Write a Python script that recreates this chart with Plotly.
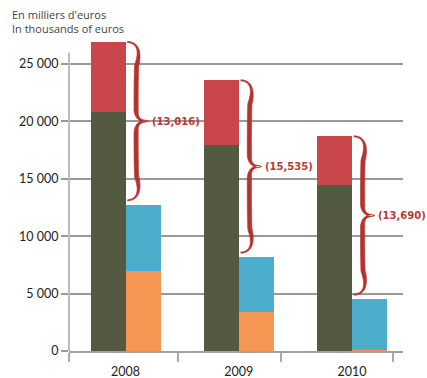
import math
import plotly.graph_objects as go

years = ["2008", "2009", "2010"]
dark_vals = [20800, 17900, 14430]
red_vals = [6120, 5680, 4270]
orange_vals = [6970, 3400, 120]
blue_vals = [5750, 4760, 4380]
brace_labels = ["(13,016)", "(15,535)", "(13,690)"]

C_DARK = "#545942"
C_RED = "#c9474a"
C_ORANGE = "#f79552"
C_BLUE = "#4daecb"
C_BRACE = "#b5332e"

pos = list(range(len(years)))
bw = 0.31
xl = [p - bw / 2 for p in pos]
xr = [p + bw / 2 for p in pos]

fig = go.Figure()
fig.add_bar(x=xl, y=dark_vals, width=bw, marker=dict(color=C_DARK, line=dict(width=0)))
fig.add_bar(x=xl, y=red_vals, width=bw, marker=dict(color=C_RED, line=dict(width=0)))
fig.add_bar(x=xr, y=orange_vals, width=bw, marker=dict(color=C_ORANGE, line=dict(width=0)))
fig.add_bar(x=xr, y=blue_vals, width=bw, marker=dict(color=C_BLUE, line=dict(width=0)))

# pixel scale of the axes (plot 334 px wide over 2.95 units, 310 px tall over 27000)
PX_X = 334 / 2.95
PX_Y = 310 / 27000


def bez(p0, p1, p2, p3, n=14):
    pts = []
    for k in range(n + 1):
        t = k / n
        a = (1 - t) ** 3
        b = 3 * (1 - t) ** 2 * t
        c = 3 * (1 - t) * t ** 2
        d = t ** 3
        pts.append((a * p0[0] + b * p1[0] + c * p2[0] + d * p3[0],
                    a * p0[1] + b * p1[1] + c * p2[1] + d * p3[1]))
    return pts


def brace_polygon(cx, top, bot):
    H = (top - bot) * PX_Y  # pixel height
    h2 = H / 2
    half = bez((2, 0), (15, 1), (14, 14), (11, 24))
    half += bez((11, 24), (10.5, 24 + (h2 - 36) / 3), (10.5, h2 - 12 - (h2 - 36) / 3), (10.5, h2 - 12))[1:]
    half += bez((10.5, h2 - 12), (10.5, h2 - 3), (14, h2), (22, h2))[1:]
    mirror = [(x, H - y) for (x, y) in reversed(half[:-1])]
    center = half + mirror
    n = len(center)
    # thickness profile
    thick = []
    for i, (x, y) in enumerate(center):
        d = min(y, H - y)
        dmid = abs(y - h2)
        t = 4.2
        if d < 22:
            t = 1.2 + 3.0 * (d / 22)
        if dmid < 10:
            t = min(t, 1.8 + 2.4 * (dmid / 10))
        thick.append(t)
    left, right = [], []
    for i in range(n):
        x0, y0 = center[max(i - 1, 0)]
        x1, y1 = center[min(i + 1, n - 1)]
        dx, dy = x1 - x0, y1 - y0
        L = math.hypot(dx, dy) or 1
        nx, ny = -dy / L, dx / L
        x, y = center[i]
        t = thick[i] / 2
        left.append((x + nx * t, y + ny * t))
        right.append((x - nx * t, y - ny * t))
    poly = left + list(reversed(right))
    pts = [(cx + px / PX_X, top - py / PX_Y) for (px, py) in poly]
    return "M " + " L ".join(f"{a:.5f},{b:.2f}" for a, b in pts) + " Z"


shapes = []
annotations = []
for i, p in enumerate(pos):
    top = dark_vals[i] + red_vals[i]
    bot = orange_vals[i] + blue_vals[i] + 400
    mid = (top + bot) / 2
    shapes.append(dict(type="path", path=brace_polygon(p, top, bot), xref="x", yref="y",
                       fillcolor=C_BRACE, line=dict(color=C_BRACE, width=0.6)))
    annotations.append(dict(x=p + 22 / PX_X, y=mid, xref="x", yref="y", text=brace_labels[i],
                            showarrow=False, xanchor="left", yanchor="middle", xshift=2,
                            font=dict(family="DejaVu Sans", size=10, color="#b83a36", weight="bold")))

# vertical axis line
shapes.append(dict(type="line", xref="paper", yref="y", x0=0, x1=0, y0=-800, y1=26000,
                   line=dict(color="#bdbdbd", width=2)))

annotations.append(dict(xref="paper", yref="paper", x=-0.177, y=(378 - 27 - 5) / 310,
                        text="En milliers d'euros<br>In thousands of euros", showarrow=False,
                        xanchor="left", yanchor="top", align="left",
                        font=dict(family="Open Sans", size=11, color="#444")))

fig.update_layout(
    width=427, height=378,
    margin=dict(l=69, r=24, t=41, b=27),
    barmode="stack",
    showlegend=False,
    plot_bgcolor="white", paper_bgcolor="white",
    shapes=shapes, annotations=annotations,
    xaxis=dict(range=[-0.5, 2.45], tickvals=pos, ticktext=years, automargin=False,
               ticks="outside", ticklen=8, tickcolor="rgba(0,0,0,0)",
               showgrid=False, zeroline=False, showline=True, linecolor="#a0a0a0", linewidth=1.5,
               tickfont=dict(family="Lato", size=12.5, color="#222"),
               minor=dict(tickvals=[-0.5, 0.46, 1.37, 2.36], ticks="outside", ticklen=9,
                          tickcolor="#aaaaaa", tickwidth=1.5, showgrid=False)),
    yaxis=dict(range=[0, 27000], tickvals=[0, 5000, 10000, 15000, 20000, 25000],
               ticktext=["0", "5 000", "10 000", "15 000", "20 000", "25 000"], automargin=False,
               ticks="outside", ticklen=7, tickcolor="#999", tickwidth=1.5,
               showgrid=True, gridcolor="#999", gridwidth=1.5, zeroline=False, showline=False,
               tickfont=dict(family="Lato", size=12.5, color="#222")),
)

fig.write_html("out.html")
